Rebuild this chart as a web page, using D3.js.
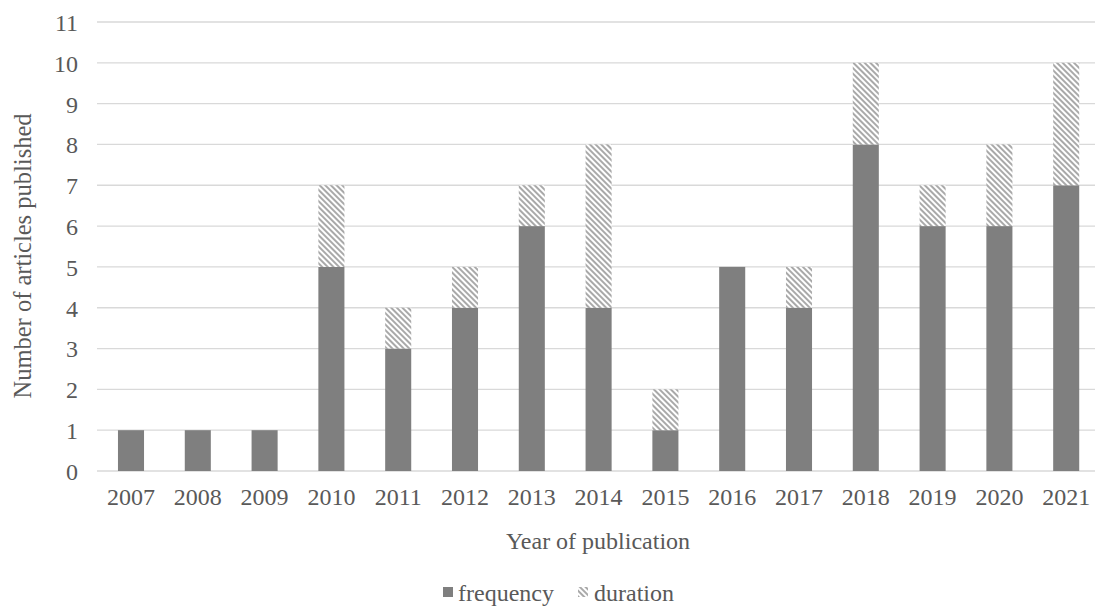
<!DOCTYPE html>
<html><head><meta charset="utf-8">
<script src="https://cdn.jsdelivr.net/npm/d3@7"></script>
<style>body{margin:0;background:#fff}svg{display:block}text{font-family:"Liberation Serif","Times New Roman",serif;fill:#595959}</style>
</head><body><svg id="c" width="1095" height="608"></svg>
<script>
const years = ["2007","2008","2009","2010","2011","2012","2013","2014","2015","2016","2017","2018","2019","2020","2021"];
const frequency = [1,1,1,5,3,4,6,4,1,5,4,8,6,6,7];
const duration  = [0,0,0,2,1,1,1,4,1,0,1,2,1,2,3];
const yTicks = [0,1,2,3,4,5,6,7,8,9,10,11];

const svg = d3.select("#c");
const defs = svg.append("defs");
const pat = defs.append("pattern").attr("id","hatch").attr("patternUnits","userSpaceOnUse")
  .attr("width",4).attr("height",4).attr("patternTransform","rotate(45)");
pat.append("rect").attr("width",4).attr("height",4).attr("fill","#fff");
pat.append("rect").attr("width",4).attr("height",2).attr("fill","#a9a9a9");

const x = d3.scaleBand().domain(years).range([97.6,1099.6]).paddingInner(0.61).paddingOuter(0.305);
const y = d3.scaleLinear().domain([0,11]).range([471,22]);

svg.append("g").selectAll("line").data(yTicks).join("line")
  .attr("x1",97).attr("x2",1100).attr("y1",d=>y(d)).attr("y2",d=>y(d))
  .attr("stroke","#d9d9d9").attr("stroke-width",1.3);

const yAxis = d3.axisLeft(y).tickValues(yTicks).tickSize(0).tickPadding(0);
const gy = svg.append("g").attr("transform","translate(78,0)").call(yAxis);
gy.select(".domain").remove();
gy.selectAll("text").style("font-size","24px").attr("fill","#595959").attr("dy","0.35em");

const xAxis = d3.axisBottom(x).tickSize(0).tickPadding(0);
const gx = svg.append("g").attr("transform","translate(0,488)").call(xAxis);
gx.select(".domain").remove();
gx.selectAll("text").style("font-size","24px").attr("fill","#595959").attr("dy","0.72em");

svg.append("g").selectAll("rect").data(years).join("rect")
  .attr("x",d=>x(d)).attr("width",x.bandwidth())
  .attr("y",(d,i)=>y(frequency[i])).attr("height",(d,i)=>y(0)-y(frequency[i]))
  .attr("fill","#7f7f7f");
svg.append("g").selectAll("rect").data(years.filter((d,i)=>duration[i]>0)).join("rect")
  .attr("x",d=>x(d)).attr("width",x.bandwidth())
  .attr("y",d=>{const i=years.indexOf(d);return y(frequency[i]+duration[i]);})
  .attr("height",d=>{const i=years.indexOf(d);return y(frequency[i])-y(frequency[i]+duration[i]);})
  .attr("fill","url(#hatch)");

svg.append("text").attr("transform","translate(31,256) rotate(-90)").attr("text-anchor","middle")
  .style("font-size","24.5px").text("Number of articles published");
svg.append("text").attr("x",598).attr("y",549).attr("text-anchor","middle")
  .style("font-size","24px").text("Year of publication");

const leg = svg.append("g");
leg.append("rect").attr("x",443).attr("y",587).attr("width",10).attr("height",10).attr("fill","#7f7f7f");
leg.append("text").attr("x",458).attr("y",601).style("font-size","24px").text("frequency");
leg.append("rect").attr("x",578).attr("y",587).attr("width",10).attr("height",10).attr("fill","url(#hatch)");
leg.append("text").attr("x",594).attr("y",601).style("font-size","24px").text("duration");
</script></body></html>
